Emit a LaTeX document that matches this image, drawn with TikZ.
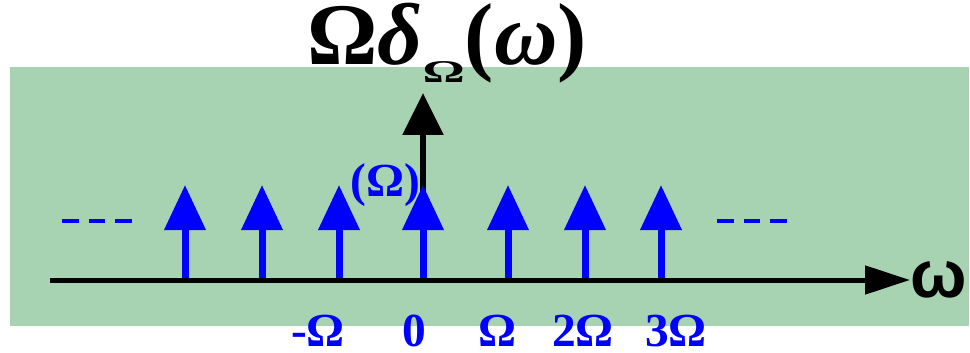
\documentclass[tikz,border=0pt]{standalone}
\usepackage{fontspec}
\setmainfont{Liberation Serif}
\newfontfamily\omegafont{Liberation Sans}
\usetikzlibrary{arrows.meta}
\definecolor{bggreen}{RGB}{168,211,178}
\definecolor{pureblue}{RGB}{0,0,255}

\begin{document}
\begin{tikzpicture}[
    impulse/.style={pureblue, line width=0.14cm, -{Triangle[width=0.8cm, length=0.9cm]}},
    bigimpulse/.style={black, line width=0.12cm, -{Triangle[width=0.8cm, length=0.84cm]}},
    axis/.style={black, line width=0.1cm, -{Triangle[width=0.56cm, length=0.9cm]}},
    lbl/.style={text=pureblue, font=\fontsize{27}{27}\selectfont\bfseries, inner sep=0pt},
    dots/.style={pureblue, line width=0.08cm, dash pattern=on 0.33cm off 0.2cm}
]
\useasboundingbox (0,0) rectangle (19.4,7.04);
\fill[bggreen] (0.2,0.52) rectangle (19.38,5.7);

% Title
\node[anchor=base, inner sep=0pt, font=\fontsize{50}{50}\selectfont\bfseries] (title) at (8.94,5.74)
    {Ω\textit{δ}\raisebox{-10pt}{\scalebox{1}[0.6]{\fontsize{30}{30}\selectfont Ω}}(\textit{ω})};

% Weight of the impulse train
\coordinate (peakbase) at (8.46,3.2);
\coordinate (peak) at (8.46,5.18);
\draw[bigimpulse] (peakbase) -- (peak);

% Impulses
\foreach \x [count=\i] in {3.7,5.24,6.78,8.46,10.16,11.7,13.22} {
    \coordinate (b\i) at (\x,1.44);
    \coordinate (t\i) at (\x,3.34);
    \draw[impulse] (b\i) -- (t\i);
}

% Axis
\coordinate (axisstart) at (1.0,1.44);
\node[anchor=west, inner sep=0pt, font=\omegafont\fontsize{38}{38}\selectfont\bfseries] (omega) at (18.2,1.44) {ω};
\draw[axis] (axisstart) -- (omega.west);

% Dashes
\coordinate (ldl) at (1.24,2.62);
\coordinate (ldr) at (2.64,2.62);
\coordinate (rdl) at (14.34,2.62);
\coordinate (rdr) at (15.74,2.62);
\draw[dots] (ldl) -- (ldr);
\draw[dots] (rdl) -- (rdr);

% Labels
\node[lbl] (weight) at (7.7,3.34) {(Ω)};
\node[lbl, anchor=base] (lm1) at (6.36,0.12) {-Ω};
\node[lbl, anchor=base] (l0) at (8.28,0.12) {0};
\node[lbl, anchor=base] (l1) at (9.94,0.12) {Ω};
\node[lbl, anchor=base] (l2) at (11.66,0.12) {2Ω};
\node[lbl, anchor=base] (l3) at (13.52,0.12) {3Ω};
\end{tikzpicture}
\end{document}
